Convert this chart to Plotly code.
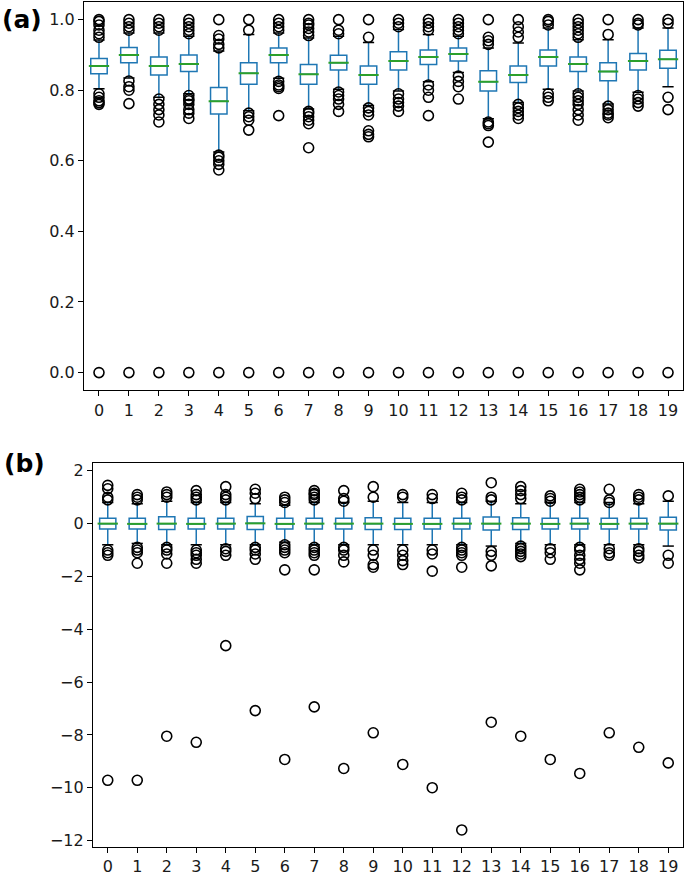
import plotly.graph_objects as go

# ---------------- data ----------------
cats = list(range(20))
tick_labels = [str(c) for c in cats]

# panel (a)
a_q1 = [.847, .878, .843, .853, .733, .817, .878, .817, .857, .817, .857, .873, .883, .798, .822, .869, .853, .827, .857, .862]
a_med = [.869, .900, .869, .874, .769, .848, .900, .845, .878, .843, .883, .894, .903, .824, .843, .894, .874, .853, .883, .888]
a_q3 = [.890, .921, .894, .900, .808, .878, .920, .873, .899, .869, .909, .914, .920, .855, .869, .914, .894, .878, .904, .913]
a_wlo = [.804, .835, .780, .790, .625, .742, .834, .747, .803, .757, .798, .824, .850, .719, .765, .803, .798, .761, .794, .810]
a_whi = [.942, .962, .962, .953, .911, .958, .962, .948, .953, .935, .972, .958, .953, .920, .934, .976, .943, .943, .976, .976]
a_out_hi = [
    [0.95, 0.96, 0.97, 0.985, 0.995, 1.0],
    [0.97, 0.98, 0.99, 1.0],
    [0.97, 0.98, 0.99, 1.0],
    [0.96, 0.97, 0.98, 0.99, 1.0],
    [0.92, 0.93, 0.945, 0.955, 1.0],
    [0.97, 1.0],
    [0.97, 0.98, 0.99, 1.0],
    [0.955, 0.965, 0.975, 0.985, 0.99, 1.0],
    [0.96, 0.97, 1.0],
    [0.95, 1.0],
    [0.98, 0.99, 1.0],
    [0.97, 0.98, 0.99, 1.0],
    [0.96, 0.97, 0.98, 0.99, 1.0],
    [0.93, 0.94, 0.95, 1.0],
    [0.95, 0.965, 0.98, 1.0],
    [0.985, 0.995, 1.0],
    [0.95, 0.96, 0.97, 0.98, 0.99, 1.0],
    [0.958, 1.0],
    [0.985, 0.99, 1.0],
    [0.99, 1.0],
]
a_out_lo = [
    [0.79, 0.78, 0.77, 0.765, 0.76],
    [0.826, 0.81, 0.80, 0.762],
    [0.775, 0.76, 0.745, 0.73, 0.71],
    [0.785, 0.775, 0.77, 0.76, 0.745, 0.735, 0.72],
    [0.616, 0.61, 0.60, 0.59, 0.574],
    [0.735, 0.725, 0.715, 0.687],
    [0.825, 0.815, 0.81, 0.805, 0.728],
    [0.74, 0.735, 0.725, 0.715, 0.705, 0.637],
    [0.795, 0.785, 0.775, 0.76, 0.74],
    [0.75, 0.74, 0.73, 0.685, 0.675, 0.668],
    [0.79, 0.775, 0.765, 0.755, 0.74],
    [0.815, 0.80, 0.78, 0.728],
    [0.84, 0.825, 0.81, 0.775],
    [0.71, 0.705, 0.70, 0.653],
    [0.76, 0.75, 0.74, 0.73, 0.72],
    [0.79, 0.78, 0.77],
    [0.79, 0.78, 0.77, 0.76, 0.745, 0.73, 0.715],
    [0.755, 0.745, 0.735, 0.73, 0.722],
    [0.785, 0.775, 0.765, 0.755],
    [0.78, 0.745],
]
a_zero = [0.0] * 20

# panel (b)
b_q1 = [-0.2, -0.2, -0.22, -0.2, -0.2, -0.22, -0.2, -0.2, -0.2, -0.22, -0.22, -0.2, -0.2, -0.24, -0.22, -0.2, -0.2, -0.2, -0.2, -0.24]
b_med = [0.0, -0.01, 0.0, -0.01, 0.0, 0.01, -0.01, 0.0, 0.0, 0.0, -0.01, -0.01, 0.0, 0.0, 0.0, -0.01, 0.0, -0.01, 0.0, 0.0]
b_q3 = [0.2, 0.2, 0.26, 0.2, 0.2, 0.27, 0.2, 0.2, 0.2, 0.22, 0.2, 0.2, 0.2, 0.25, 0.22, 0.2, 0.2, 0.2, 0.2, 0.24]
b_wlo = [-0.8, -0.75, -0.8, -0.8, -0.8, -0.8, -0.7, -0.8, -0.8, -0.8, -0.8, -0.8, -0.8, -0.85, -0.75, -0.8, -0.8, -0.8, -0.8, -0.85]
b_whi = [0.8, 0.75, 0.85, 0.8, 0.8, 0.75, 0.7, 0.8, 0.8, 0.85, 0.8, 0.8, 0.8, 0.85, 0.75, 0.8, 0.8, 0.8, 0.75, 0.85]
b_out_hi = [
    [1.45, 1.32, 1.0, 0.9],
    [1.1, 1.0, 0.9],
    [1.2, 1.1, 1.0],
    [1.25, 1.1, 1.0, 0.9],
    [1.4, 1.1, 1.0, 0.9],
    [1.3, 1.15, 0.95],
    [1.0, 0.9, 0.8],
    [1.25, 1.15, 1.1, 1.0, 0.9],
    [1.25, 0.95, 0.85],
    [1.4, 1.0],
    [1.1, 1.0],
    [1.1, 0.95],
    [1.15, 1.0, 0.9],
    [1.55, 1.0, 0.9],
    [1.4, 1.25, 1.1, 0.95],
    [1.05, 0.95, 0.85],
    [1.3, 1.2, 1.1, 1.0, 0.9],
    [1.3, 0.9, 0.8],
    [1.1, 1.0, 0.9],
    [1.05],
]
b_out_lo = [
    [-1.0, -1.1, -1.2],
    [-0.9, -1.0, -1.1, -1.5],
    [-0.9, -1.0, -1.15, -1.5],
    [-1.0, -1.1, -1.2, -1.35, -1.5],
    [-0.95, -1.05, -1.2],
    [-0.9, -1.0, -1.15, -1.35],
    [-0.8, -0.9, -1.0, -1.1, -1.75],
    [-0.9, -1.0, -1.1, -1.2, -1.75],
    [-0.9, -1.0, -1.2, -1.45],
    [-1.0, -1.2, -1.55, -1.65],
    [-1.0, -1.2, -1.4, -1.55],
    [-1.0, -1.15, -1.8],
    [-0.9, -1.0, -1.1, -1.2, -1.65],
    [-1.05, -1.2, -1.6],
    [-0.85, -0.95, -1.05, -1.15, -1.25],
    [-0.95, -1.1, -1.35],
    [-0.9, -1.0, -1.2, -1.35, -1.5, -1.75],
    [-0.95, -1.1, -1.2],
    [-0.95, -1.05, -1.2, -1.3],
    [-1.2, -1.5],
]
b_far = [-9.72, -9.72, -8.05, -8.28, -4.62, -7.08, -8.93, -6.94, -9.27, -7.92,
         -9.12, -10.0, -11.6, -7.52, -8.05, -8.93, -9.46, -7.92, -8.47, -9.06]

# ---------------- styles ----------------
BLUE = "#1f77b4"
GREEN = "#2ca02c"
FONT = "DejaVu Sans"
W, H = 685, 878


def flatten(groups):
    xs, ys = [], []
    for c, g in zip(cats, groups):
        for v in g:
            xs.append(c)
            ys.append(v)
    return xs, ys


def add_panel(fig, q1, med, q3, wlo, whi, out_groups, xa, ya, msize):
    fig.add_trace(go.Box(
        x=cats, q1=q1, median=med, q3=q3, lowerfence=wlo, upperfence=whi,
        width=0.55, whiskerwidth=0, boxpoints=False,
        line=dict(color=BLUE, width=1.5), fillcolor="rgba(0,0,0,0)",
        xaxis=xa, yaxis=ya, showlegend=False, hoverinfo="skip"))
    # caps
    fig.add_trace(go.Scatter(
        x=cats + cats, y=wlo + whi, mode="markers",
        marker=dict(symbol="line-ew-open", size=8, color="black",
                    line=dict(color="black", width=1.5)),
        xaxis=xa, yaxis=ya, showlegend=False, hoverinfo="skip"))
    # medians
    fig.add_trace(go.Scatter(
        x=cats, y=med, mode="markers",
        marker=dict(symbol="line-ew-open", size=14.5, color=GREEN,
                    line=dict(color=GREEN, width=2)),
        xaxis=xa, yaxis=ya, showlegend=False, hoverinfo="skip"))
    xs, ys = [], []
    for g in out_groups:
        gx, gy = flatten(g)
        xs += gx
        ys += gy
    fig.add_trace(go.Scatter(
        x=xs, y=ys, mode="markers",
        marker=dict(symbol="circle-open", size=msize, color="black",
                    line=dict(color="black", width=1.6)),
        xaxis=xa, yaxis=ya, showlegend=False, hoverinfo="skip"))


fig = go.Figure()
add_panel(fig, a_q1, a_med, a_q3, a_wlo, a_whi, [a_out_hi, a_out_lo, [[z] for z in a_zero]], "x", "y", 10)
add_panel(fig, b_q1, b_med, b_q3, b_wlo, b_whi, [b_out_hi, b_out_lo, [[v] for v in b_far]], "x2", "y2", 10)

axis_common = dict(
    showline=True, linecolor="black", linewidth=1.3, mirror=True,
    ticks="outside", ticklen=5, tickwidth=1.2, tickcolor="black",
    showgrid=False, zeroline=False,
    tickfont=dict(family=FONT, size=16, color="#1a1a1a"),
)

a_yticks = [0.0, 0.2, 0.4, 0.6, 0.8, 1.0]
b_yticks = [2, 0, -2, -4, -6, -8, -10, -12]

fig.update_layout(
    width=W, height=H,
    margin=dict(l=0, r=0, t=0, b=0),
    paper_bgcolor="white", plot_bgcolor="white",
    xaxis=dict(domain=[84 / W, 683 / W], range=[-0.5, 19.5], anchor="y",
               tickvals=cats, ticktext=tick_labels, **axis_common),
    yaxis=dict(domain=[(H - 391) / H, (H - 1) / H], range=[-0.05, 1.05], anchor="x",
               tickvals=a_yticks, ticktext=[f"{v:.1f}" for v in a_yticks], **axis_common),
    xaxis2=dict(domain=[93 / W, 683 / W], range=[-0.5, 19.5], anchor="y2",
                tickvals=cats, ticktext=tick_labels, **axis_common),
    yaxis2=dict(domain=[(H - 850) / H, (H - 464) / H], range=[-12.25, 2.3], anchor="x2",
                tickvals=b_yticks, ticktext=[str(v).replace("-", "\u2212") for v in b_yticks], **axis_common),
    annotations=[
        dict(text="<b>(a)</b>", x=0, y=1 - 19 / H, xref="paper", yref="paper",
             xanchor="left", yanchor="middle", showarrow=False,
             font=dict(family=FONT, size=25, color="black")),
        dict(text="<b>(b)</b>", x=2 / W, y=1 - 465 / H, xref="paper", yref="paper",
             xanchor="left", yanchor="middle", showarrow=False,
             font=dict(family=FONT, size=25, color="black")),
    ],
)

fig.write_html("out.html", config={"displayModeBar": False})

# remove the default page margin so the 685x878 figure fills the window exactly
with open("out.html", "r", encoding="utf-8") as f:
    html = f.read()
html = html.replace("<head>", "<head><style>html,body{margin:0;padding:0;overflow:hidden;}</style>", 1)
with open("out.html", "w", encoding="utf-8") as f:
    f.write(html)
